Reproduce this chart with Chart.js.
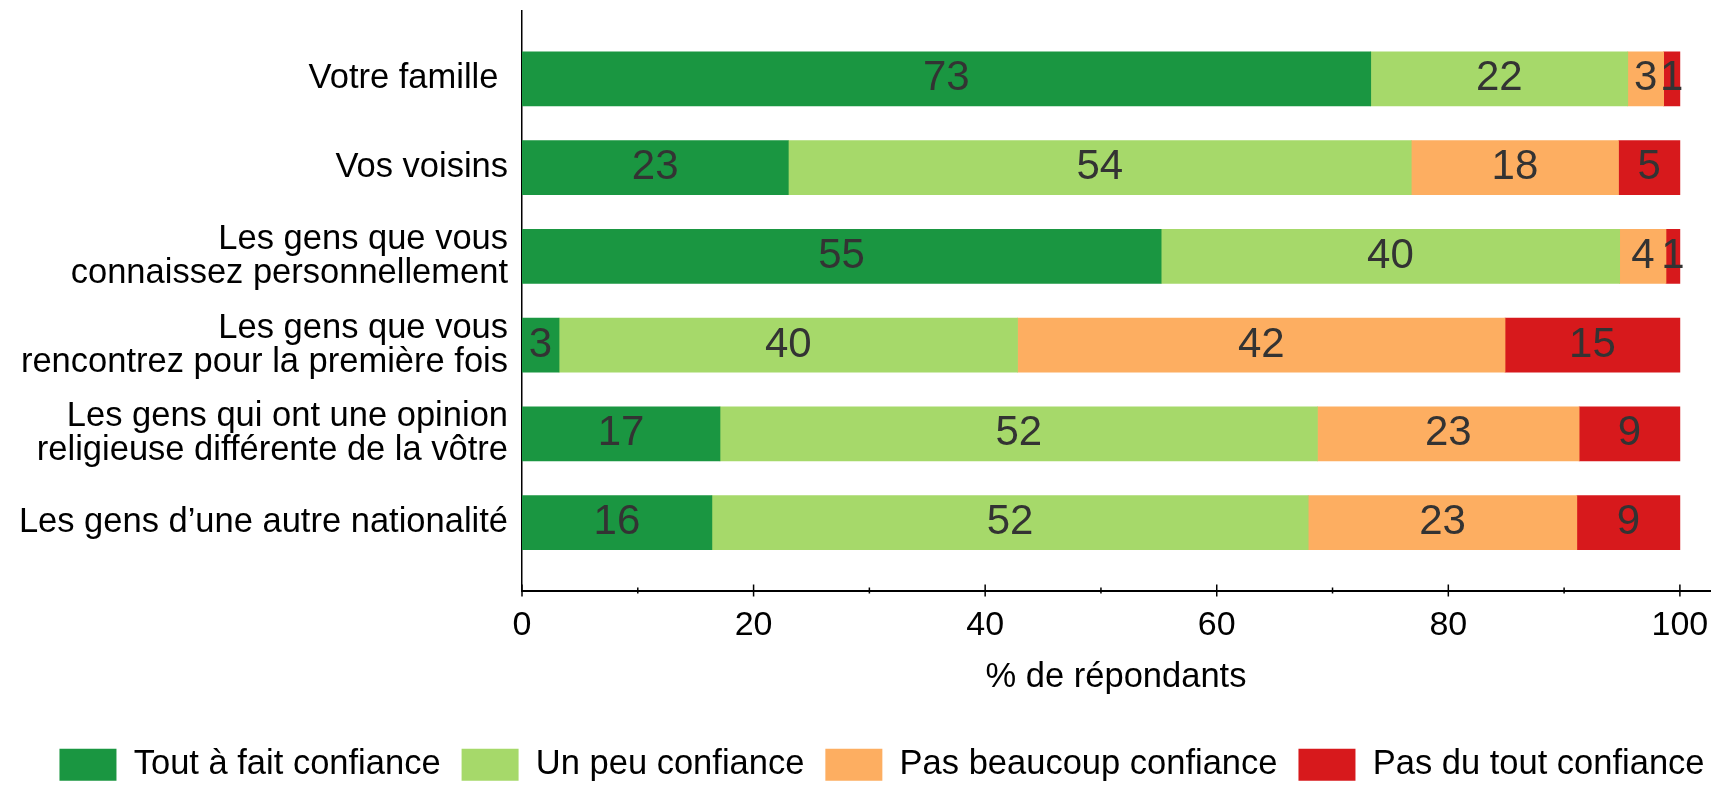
<!DOCTYPE html>
<html lang="fr">
<head>
<meta charset="utf-8">
<title>Confiance</title>
<script src="https://cdn.jsdelivr.net/npm/chart.js@4.4.1/dist/chart.umd.min.js"></script>
<style>
  html, body { margin: 0; padding: 0; background: #fff; }
  #cadre { width: 1714px; height: 786px; }
</style>
</head>
<body>
<div id="cadre"><canvas id="graphique"></canvas></div>
<script>
// Données (% de répondants)
const categories = [
    "Votre famille ",
    "Vos voisins",
    ["Les gens que vous", "connaissez personnellement"],
    ["Les gens que vous", "rencontrez pour la première fois"],
    ["Les gens qui ont une opinion", "religieuse différente de la vôtre"],
    "Les gens d\u2019une autre nationalité"
];
const toutAFait   = [73.3, 23.0, 55.2, 3.2, 17.1, 16.4];
const unPeu       = [22.2, 53.8, 39.6, 39.6, 51.6, 51.5];
const pasBeaucoup = [3.1, 17.9, 4.0, 42.1, 22.6, 23.2];
const pasDuTout   = [1.4, 5.3, 1.2, 15.1, 8.7, 8.9];
const series = ["Tout à fait confiance", "Un peu confiance", "Pas beaucoup confiance", "Pas du tout confiance"];
const couleurs = ["#1a9641", "#a6d96a", "#fdae61", "#d7191c"];

const police = '"Liberation Sans", Arial, sans-serif';

// Étiquettes des valeurs au centre de chaque segment
const etiquettes = {
    id: "etiquettes",
    afterDatasetsDraw(chart) {
        const ctx = chart.ctx;
        ctx.save();
        ctx.font = "42px " + police;
        ctx.fillStyle = "#333333";
        ctx.textAlign = "center";
        ctx.textBaseline = "middle";
        chart.data.datasets.forEach((ds, i) => {
            chart.getDatasetMeta(i).data.forEach((barre, j) => {
                const p = barre.getProps(["x", "y", "base"], true);
                ctx.fillText(Math.round(ds.data[j].x), (p.x + p.base) / 2, p.y);
            });
        });
        ctx.restore();
    }
};

// Graduations qui traversent l'axe horizontal
const graduations = {
    id: "graduations",
    afterLayout(chart) {
        // légende un peu décalée vers la droite comme dans l'original
        if (chart.legend) {
            chart.legend.left += 27;
            chart.legend.right += 27;
        }
    },
    afterDraw(chart) {
        const ctx = chart.ctx;
        const sx = chart.scales.x;
        const bas = chart.chartArea.bottom;
        ctx.save();
        ctx.strokeStyle = "#000";
        ctx.lineWidth = 1.5;
        sx.ticks.forEach(t => {
            const px = sx.getPixelForValue(t.value);
            const h = t.value % 20 === 0 ? 6 : 3;
            ctx.beginPath();
            ctx.moveTo(px, bas - h);
            ctx.lineTo(px, bas + h);
            ctx.stroke();
        });
        ctx.restore();
    }
};

const jeux = [toutAFait, unPeu, pasBeaucoup, pasDuTout].map((valeurs, k) => ({
    label: series[k],
    data: valeurs.map((v, i) => ({ x: v, y: i })),
    backgroundColor: couleurs[k],
    borderWidth: 0,
    barThickness: 54
}));

new Chart(document.getElementById("graphique"), {
    type: "bar",
    data: { datasets: jeux },
    plugins: [etiquettes, graduations],
    options: {
        indexAxis: "y",
        responsive: true,
        maintainAspectRatio: false,
        animation: false,
        layout: { padding: { top: 11, left: 0, right: 4, bottom: -6 } },
        plugins: {
            tooltip: { enabled: false },
            legend: {
                position: "bottom",
                labels: {
                    boxWidth: 57,
                    boxHeight: 32,
                    padding: 21,
                    color: "#000",
                    font: { family: police, size: 34.5 }
                }
            }
        },
        scales: {
            x: {
                type: "linear",
                stacked: true,
                min: 0,
                max: 102.6,
                grid: { display: false, drawTicks: false },
                border: { display: true, color: "#000", width: 2 },
                ticks: {
                    stepSize: 10,
                    includeBounds: false,
                    padding: 15,
                    color: "#000",
                    font: { family: police, size: 34 },
                    callback: v => (v % 20 === 0 ? v : "")
                },
                title: {
                    display: true,
                    text: "% de répondants",
                    color: "#000",
                    font: { family: police, size: 34.5 },
                    padding: { top: 0, bottom: 28 }
                },
                afterFit(s) {
                    s.height = 136;
                    s.paddingLeft = 0;
                    s.paddingRight = 0;
                }
            },
            y: {
                type: "linear",
                stacked: true,
                reverse: true,
                offset: false,
                min: -0.764,
                max: 5.764,
                grid: { display: false, drawTicks: false, offset: false },
                border: { display: true, color: "#000", width: 1.5 },
                ticks: {
                    stepSize: 1,
                    includeBounds: false,
                    autoSkip: false,
                    padding: 14,
                    color: "#000",
                    font: { family: police, size: 34.5, lineHeight: 0.985 },
                    callback: v => (Number.isInteger(v) ? categories[v] : "")
                },
                afterFit(s) {
                    s.width = 522;
                    s.paddingTop = 0;
                    s.paddingBottom = 0;
                }
            }
        }
    }
});
</script>
</body>
</html>
